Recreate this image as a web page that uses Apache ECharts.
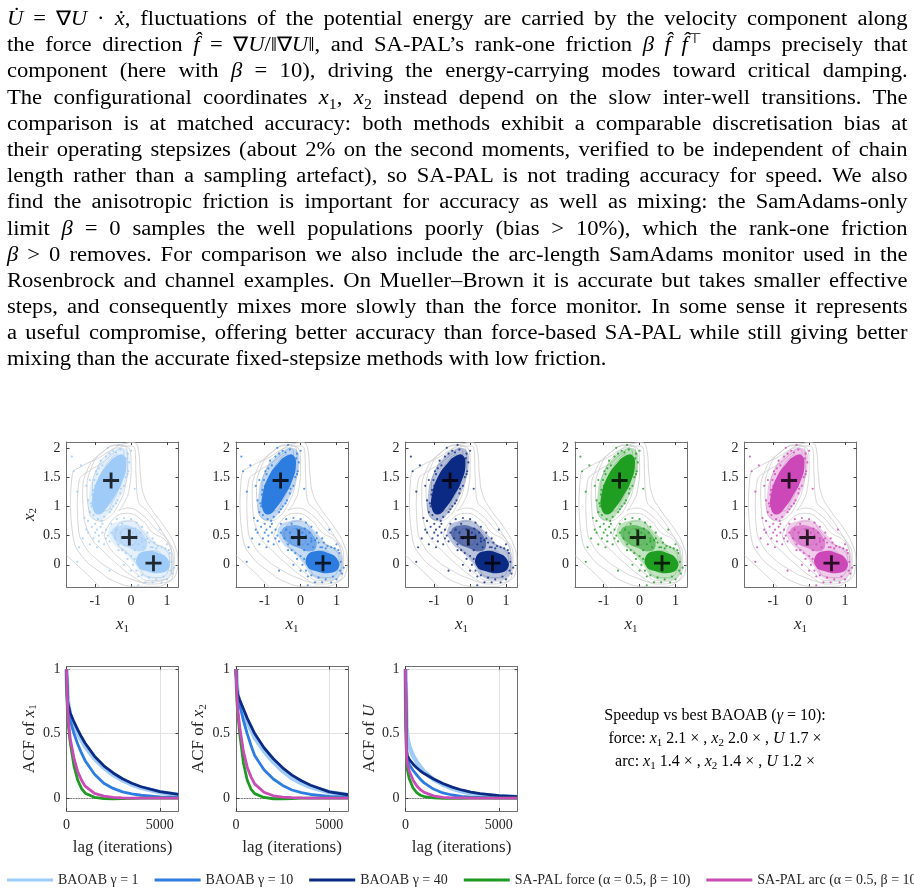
<!DOCTYPE html>
<html>
<head>
<meta charset="utf-8">
<script src="https://cdn.jsdelivr.net/npm/echarts@6/dist/echarts.min.js"></script>
<style>
  body { margin: 0; background: #fff; }
  #chart { position: absolute; left: 0; top: 0; width: 914px; height: 893px; }
  #text {
    position: absolute; left: 7px; top: 5px; width: 797px; z-index: 2;
    transform: scaleX(1.13); transform-origin: left top;
    font-family: "Liberation Serif", serif; font-size: 20px; color: #000;
  }
  #text div { height: 26.2px; line-height: 26.2px; text-align: justify; text-align-last: justify; }
  #text div.last { text-align: left; text-align-last: left; }
  #text sub, #text sup { font-size: 70%; line-height: 0; }
</style>
</head>
<body>
<div id="chart"></div>
<div id="text">
  <div><i>U&#775;</i> = &nabla;<i>U</i> &middot; <i>x&#775;</i>, fluctuations of the potential energy are carried by the velocity component along</div>
  <div>the force direction <i>f&#770;</i> = &nabla;<i>U</i>/&Vert;&nabla;<i>U</i>&Vert;, and SA-PAL&rsquo;s rank-one friction <i>&beta; f&#770; f&#770;</i><sup>&#8868;</sup> damps precisely that</div>
  <div>component (here with <i>&beta;</i> = 10), driving the energy-carrying modes toward critical damping.</div>
  <div>The configurational coordinates <i>x</i><sub>1</sub>, <i>x</i><sub>2</sub> instead depend on the slow inter-well transitions. The</div>
  <div>comparison is at matched accuracy: both methods exhibit a comparable discretisation bias at</div>
  <div>their operating stepsizes (about 2% on the second moments, verified to be independent of chain</div>
  <div>length rather than a sampling artefact), so SA-PAL is not trading accuracy for speed. We also</div>
  <div>find the anisotropic friction is important for accuracy as well as mixing: the SamAdams-only</div>
  <div>limit <i>&beta;</i> = 0 samples the well populations poorly (bias &gt; 10%), which the rank-one friction</div>
  <div><i>&beta;</i> &gt; 0 removes. For comparison we also include the arc-length SamAdams monitor used in the</div>
  <div>Rosenbrock and channel examples. On Mueller&ndash;Brown it is accurate but takes smaller effective</div>
  <div>steps, and consequently mixes more slowly than the force monitor. In some sense it represents</div>
  <div>a useful compromise, offering better accuracy than force-based SA-PAL while still giving better</div>
  <div class="last">mixing than the accurate fixed-stepsize methods with low friction.</div>
</div>
<script>
// ---- data ----
const methodNames = ['BAOAB γ = 1', 'BAOAB γ = 10', 'BAOAB γ = 40', 'SA-PAL force (α = 0.5, β = 10)', 'SA-PAL arc (α = 0.5, β = 10)'];
const methodColors = ['#9fcbf8', '#2d7de0', '#0b2a84', '#1f9a22', '#c94bb5'];

// well minima (crosses)
const minima = [[-0.558, 1.442], [-0.050, 0.467], [0.623, 0.028]];

// hand-traced potential contours (x1, x2)
const cOpen = [[-1.8, 0.16], [-1.55, 0.02], [-1.3, -0.12], [-1.05, -0.27], [-0.85, -0.4]];
const cOuter1 = [[-1.69, 1.03], [-1.64, 1.54], [-1.36, 1.69], [-0.9, 1.83], [-0.53, 1.97], [-0.2, 2.07], [0.07, 2.09], [0.21, 1.94], [0.26, 1.54], [0.35, 1.2], [0.58, 0.94], [0.95, 0.63], [1.21, 0.34], [1.3, 0.06], [1.26, -0.14], [1.05, -0.29], [0.68, -0.37], [0.12, -0.37], [-0.44, -0.29], [-0.9, -0.11], [-1.36, 0.14], [-1.61, 0.46], [-1.69, 1.03]];
const cOuter2 = [[-1.5, 1.03], [-1.45, 1.43], [-1.18, 1.6], [-0.81, 1.74], [-0.48, 1.91], [-0.16, 2.03], [0.03, 2.03], [0.12, 1.89], [0.14, 1.49], [0.19, 1.11], [0.49, 0.89], [0.86, 0.57], [1.09, 0.29], [1.17, 0.03], [1.09, -0.17], [0.86, -0.27], [0.4, -0.3], [-0.06, -0.23], [-0.53, -0.09], [-0.99, 0.11], [-1.31, 0.34], [-1.47, 0.63], [-1.5, 1.03]];
const cMerged = [[-1.3, 0.75], [-1.35, 1.2], [-1.2, 1.65], [-0.85, 1.9], [-0.4, 2.04], [-0.05, 1.98], [0.0, 1.7], [-0.05, 1.3], [-0.2, 1.05], [-0.35, 0.93], [-0.1, 0.97], [0.3, 0.86], [0.7, 0.6], [1.02, 0.42], [1.2, 0.14], [1.17, -0.16], [0.97, -0.3], [0.5, -0.33], [0.05, -0.2], [-0.4, 0.02], [-0.8, 0.25], [-1.1, 0.45], [-1.3, 0.75]];
const cUp1 = [[-0.9, 1.05], [-0.92, 1.3], [-0.78, 1.6], [-0.58, 1.8], [-0.4, 1.88], [-0.3, 1.8], [-0.32, 1.55], [-0.45, 1.3], [-0.62, 1.1], [-0.78, 1.0], [-0.9, 1.05]];
const cUp2 = [[-1.02, 0.95], [-1.08, 1.3], [-0.92, 1.68], [-0.65, 1.9], [-0.38, 2.0], [-0.2, 1.93], [-0.2, 1.65], [-0.32, 1.35], [-0.5, 1.1], [-0.72, 0.92], [-1.02, 0.95]];
const cUp3 = [[-1.15, 0.85], [-1.23, 1.25], [-1.08, 1.7], [-0.75, 1.95], [-0.38, 2.05], [-0.12, 1.98], [-0.1, 1.7], [-0.18, 1.3], [-0.34, 1.05], [-0.6, 0.82], [-0.9, 0.75], [-1.15, 0.85]];
const cRight = [[0.3, 0.06], [0.42, 0.2], [0.65, 0.24], [0.88, 0.15], [0.95, 0.0], [0.82, -0.1], [0.55, -0.1], [0.35, -0.04], [0.3, 0.06]];
const cMid = [[-0.3, 0.5], [-0.18, 0.62], [0.05, 0.62], [0.15, 0.47], [0.08, 0.35], [-0.12, 0.33], [-0.28, 0.4], [-0.3, 0.5]];
const cLow1 = [[-0.45, 0.52], [-0.3, 0.72], [0.05, 0.75], [0.3, 0.58], [0.6, 0.38], [0.92, 0.28], [1.07, 0.08], [1.02, -0.12], [0.78, -0.22], [0.45, -0.2], [0.2, -0.02], [-0.1, 0.2], [-0.38, 0.35], [-0.45, 0.52]];
const cLow2 = [[-0.75, 0.5], [-0.5, 0.78], [-0.1, 0.88], [0.3, 0.76], [0.6, 0.55], [0.95, 0.42], [1.13, 0.2], [1.13, -0.1], [0.93, -0.25], [0.5, -0.27], [0.15, -0.15], [-0.2, 0.05], [-0.55, 0.25], [-0.75, 0.5]];
const contours = [cOpen, cOuter1, cOuter2, cMerged, cUp3, cUp2, cUp1, cLow2, cLow1, cMid, cRight];

// sample clouds: solid cores, fainter halos, and sparse single samples
const coreUpper = [[-1.06, 0.95], [-1.06, 1.2], [-0.9, 1.5], [-0.64, 1.73], [-0.4, 1.86], [-0.2, 1.87], [-0.13, 1.7], [-0.24, 1.43], [-0.43, 1.2], [-0.66, 0.99], [-0.9, 0.86]];
const coreRight = [[0.17, 0.14], [0.4, 0.23], [0.77, 0.2], [1.03, 0.09], [1.05, -0.06], [0.81, -0.14], [0.44, -0.11], [0.19, -0.03]];
const coreMiddle = [[-0.53, 0.57], [-0.3, 0.67], [0.07, 0.64], [0.35, 0.51], [0.44, 0.31], [0.26, 0.23], [-0.06, 0.29], [-0.39, 0.4]];
const haloUpper = [[-1.14, 0.84], [-1.17, 1.2], [-1.02, 1.56], [-0.73, 1.83], [-0.4, 1.98], [-0.11, 1.96], [-0.04, 1.72], [-0.14, 1.42], [-0.34, 1.12], [-0.6, 0.89], [-0.86, 0.76]];
const haloLower = [[-0.62, 0.62], [-0.3, 0.75], [0.1, 0.73], [0.42, 0.56], [0.72, 0.36], [1.06, 0.23], [1.16, 0.0], [1.06, -0.19], [0.75, -0.25], [0.35, -0.21], [0.08, 0.02], [-0.22, 0.22], [-0.52, 0.38]];
const cores = [haloUpper, haloLower, coreUpper, coreRight, coreMiddle];
const coreOpacity = [0.3, 0.28, 1, 1, 0.55];
const samples = [
  [-1.05, 0.85], [-1.1, 1.0], [-1.08, 1.2], [-1.0, 1.35], [-0.95, 1.55], [-0.8, 1.7], [-0.7, 1.85], [-0.5, 1.95], [-0.3, 1.97], [-0.1, 1.9],
  [-0.05, 1.75], [-0.08, 1.6], [-0.15, 1.5], [-0.2, 1.35], [-0.3, 1.22], [-0.38, 1.1], [-0.5, 1.0], [-0.6, 0.9], [-0.75, 0.82], [-0.92, 0.78],
  [-1.15, 0.9], [-1.2, 1.1], [-1.15, 1.45], [-1.4, 1.7], [-1.6, 1.6], [-0.25, 1.6], [-0.9, 1.65], [-1.02, 1.45], [-0.45, 1.78], [-0.2, 1.8],
  [-1.5, 1.25], [-0.35, 2.05], [-1.0, 0.7], [-0.95, 0.6], [-0.85, 0.65], [-0.8, 0.55], [-0.7, 0.6], [-0.65, 0.5], [-1.1, 0.65], [-1.2, 0.55],
  [-1.35, 0.45], [-1.05, 0.45], [-0.9, 0.4], [-0.75, 0.35], [-0.6, 0.4], [-0.55, 0.7], [-0.4, 0.78], [-0.2, 0.8], [0.0, 0.78], [0.15, 0.72],
  [0.3, 0.65], [0.45, 0.55], [-1.3, 0.8], [-1.45, 0.3], [-0.45, 0.45], [-0.35, 0.35], [-0.25, 0.25], [-0.15, 0.2], [0.0, 0.15], [0.1, 0.25],
  [0.2, 0.35], [0.3, 0.4], [0.4, 0.42], [0.5, 0.38], [-0.3, 0.55], [-0.1, 0.6], [0.05, 0.55], [0.15, 0.5], [-0.2, 0.45], [0.25, 0.55],
  [0.55, 0.3], [-0.05, 0.35], [0.1, 0.1], [0.05, 0.0], [0.15, -0.1], [0.3, -0.18], [0.5, -0.22], [0.7, -0.25], [0.9, -0.2], [1.1, -0.1],
  [1.12, 0.05], [1.08, 0.2], [0.95, 0.28], [0.75, 0.32], [0.6, 0.3], [0.35, 0.3], [0.25, -0.05], [1.2, -0.05], [0.85, -0.3], [0.4, -0.3],
  [1.0, 0.35], [0.65, 0.38], [-1.65, 1.85], [0.1, 1.3], [-1.5, 0.05], [0.8, 0.6], [-0.6, -0.1], [0.2, -0.35], [-0.7, 1.3], [-0.55, 1.55],
  [-1.12, 1.05], [-1.06, 1.28], [-0.98, 1.6], [-0.85, 1.78], [-0.6, 1.9], [-0.42, 1.92], [-0.12, 1.82], [-0.1, 1.55], [-0.28, 1.3], [-0.42, 1.05],
  [-0.55, 0.95], [-0.82, 0.75], [-1.2, 0.75], [-1.25, 1.35], [-0.65, 2.0], [0.0, 1.95], [-1.0, 0.55], [-0.9, 0.5], [-0.7, 0.45], [-0.55, 0.55],
  [-1.15, 0.35], [-0.8, 0.7], [-0.95, 0.3], [-1.25, 0.6], [-0.4, 0.6], [-0.35, 0.25], [-0.1, 0.1], [0.2, 0.1], [0.35, 0.15], [0.45, 0.45],
  [0.6, 0.45], [0.7, 0.28], [0.85, 0.3], [1.05, 0.25], [1.15, -0.15], [1.0, -0.25], [0.6, -0.3], [0.2, -0.2], [0.0, -0.1], [-0.2, 0.0],
  [0.12, 0.62], [-0.25, 0.7], [0.5, 0.1], [0.3, 0.45]
];
const scatterColors = ['#9fcbf8', '#2d7de0', '#0b2a84', '#1f9e22', '#cc47b8'];
const scatterXTicks = [-1, 0, 1];
const scatterYTicks = [0, 0.5, 1, 1.5, 2];

// autocorrelation functions
const lags = [0, 50, 100, 200, 400, 600, 800, 1000, 1500, 2000, 2500, 3000, 3500, 4000, 5000, 6000];
const x1_g1 = [1, 0.8, 0.72, 0.64, 0.57, 0.505, 0.45, 0.40, 0.305, 0.235, 0.18, 0.138, 0.105, 0.08, 0.045, 0.025];
const x1_g10 = [1, 0.7, 0.64, 0.6, 0.5, 0.42, 0.35, 0.29, 0.185, 0.115, 0.075, 0.048, 0.032, 0.022, 0.01, 0.005];
const x1_g40 = [1, 0.76, 0.72, 0.66, 0.59, 0.53, 0.475, 0.425, 0.325, 0.25, 0.195, 0.15, 0.115, 0.088, 0.05, 0.028];
const x1_force = [1, 0.66, 0.56, 0.43, 0.25, 0.14, 0.075, 0.038, 0.006, -0.004, -0.005, -0.004, -0.002, 0, 0, 0];
const x1_arc = [1, 0.75, 0.6, 0.46, 0.31, 0.205, 0.14, 0.092, 0.036, 0.015, 0.006, 0.002, 0, 0, 0, 0];
const x2_g1 = [1, 0.86, 0.79, 0.74, 0.66, 0.59, 0.53, 0.47, 0.365, 0.28, 0.21, 0.155, 0.115, 0.085, 0.045, 0.025];
const x2_g10 = [1, 0.82, 0.78, 0.72, 0.6, 0.5, 0.41, 0.33, 0.22, 0.148, 0.098, 0.063, 0.042, 0.028, 0.014, 0.008];
const x2_g40 = [1, 0.84, 0.8, 0.76, 0.69, 0.62, 0.56, 0.50, 0.39, 0.305, 0.235, 0.178, 0.135, 0.1, 0.048, 0.026];
const x2_force = [1, 0.75, 0.65, 0.5, 0.27, 0.14, 0.07, 0.035, 0.005, -0.005, -0.005, -0.003, 0, 0, 0, 0];
const x2_arc = [1, 0.8, 0.68, 0.55, 0.36, 0.24, 0.165, 0.11, 0.045, 0.018, 0.008, 0.003, 0.001, 0, 0, 0];
const U_g1 = [1, 0.55, 0.47, 0.4, 0.33, 0.28, 0.24, 0.205, 0.145, 0.105, 0.075, 0.052, 0.037, 0.026, 0.014, 0.008];
const U_g10 = [1, 0.34, 0.3, 0.26, 0.215, 0.18, 0.145, 0.118, 0.07, 0.04, 0.024, 0.014, 0.008, 0.005, 0.002, 0.001];
const U_g40 = [1, 0.38, 0.33, 0.3, 0.265, 0.235, 0.21, 0.19, 0.148, 0.113, 0.085, 0.063, 0.047, 0.035, 0.019, 0.011];
const U_force = [1, 0.3, 0.22, 0.15, 0.08, 0.042, 0.022, 0.012, 0.002, -0.002, -0.002, -0.001, 0, 0, 0, 0];
const U_arc = [1, 0.34, 0.27, 0.21, 0.14, 0.095, 0.065, 0.045, 0.017, 0.006, 0.002, 0.001, 0, 0, 0, 0];
const acfSets = [
  [x1_g1, x1_g10, x1_g40, x1_force, x1_arc],
  [x2_g1, x2_g10, x2_g40, x2_force, x2_arc],
  [U_g1, U_g10, U_g40, U_force, U_arc]
];
const acfYNames = ['ACF of {i|x}{s|1}', 'ACF of {i|x}{s|2}', 'ACF of {i|U}'];
const acfXTicks = [0, 5000];
const acfYTicks = [0, 0.5, 1];

// speedup vs best BAOAB
const speedForce = [2.1, 2.0, 1.7];
const speedArc = [1.4, 1.4, 1.2];

// ---- layout / style ----
const FONT = 'Liberation Serif';
const panelLeft = [66.5, 236, 405.5, 575, 744.5];
const panelW = 112;
const rich = {
  i: { fontStyle: 'italic', fontFamily: FONT, fontSize: 17, lineHeight: 20 },
  s: { fontFamily: FONT, fontSize: 11, lineHeight: 11, verticalAlign: 'bottom' }
};
const nameStyle = { fontFamily: FONT, fontSize: 17, color: '#262626', rich: rich };

const grids = [], xAxes = [], yAxes = [], series = [];

function addAxes(g, xr, yr, xt, yt, xName, yName, split) {
  const common = {
    type: 'value', gridIndex: g,
    axisLine: { show: true, onZero: false, lineStyle: { color: '#707070', width: 1 } },
    axisTick: { show: true, inside: true, length: 3, lineStyle: { color: '#404040' } }
  };
  const label = { fontFamily: FONT, fontSize: 14, color: '#262626', formatter: v => String(v) };
  xAxes.push(Object.assign({}, common, {
    position: 'bottom', min: xr[0], max: xr[1],
    axisTick: Object.assign({}, common.axisTick, { customValues: xt }),
    axisLabel: Object.assign({ customValues: xt, margin: 7 }, label),
    splitLine: { show: split, lineStyle: { color: '#e2e2e2', width: 1 } },
    name: xName, nameLocation: 'middle', nameGap: 28, nameTextStyle: nameStyle
  }));
  xAxes.push(Object.assign({}, common, {
    position: 'top', min: xr[0], max: xr[1],
    axisTick: Object.assign({}, common.axisTick, { customValues: xt }),
    axisLabel: { show: false }, splitLine: { show: false }
  }));
  yAxes.push(Object.assign({}, common, {
    position: 'left', min: yr[0], max: yr[1],
    axisTick: Object.assign({}, common.axisTick, { customValues: yt }),
    axisLabel: Object.assign({ customValues: yt, margin: 6 }, label),
    splitLine: { show: split, lineStyle: { color: '#e2e2e2', width: 1 } },
    name: yName, nameLocation: 'middle', nameGap: 26, nameTextStyle: nameStyle
  }));
  yAxes.push(Object.assign({}, common, {
    position: 'right', min: yr[0], max: yr[1],
    axisTick: Object.assign({}, common.axisTick, { customValues: yt }),
    axisLabel: { show: false }, splitLine: { show: false }
  }));
}

// scatter panels
scatterColors.forEach((col, p) => {
  grids.push({ left: panelLeft[p], top: 442, width: panelW, height: 145 });
  addAxes(p, [-1.8, 1.32], [-0.38, 2.1], scatterXTicks, scatterYTicks,
    '{i|x}{s|1}', p === 0 ? '{i|x}{s|2}' : '', false);
  contours.forEach(c => series.push({
    type: 'line', xAxisIndex: 2 * p, yAxisIndex: 2 * p, data: c, smooth: 0.5,
    showSymbol: false, silent: true, lineStyle: { color: '#cbcbcb', width: 0.8 }, z: 1
  }));
  series.push({
    type: 'custom', xAxisIndex: 2 * p, yAxisIndex: 2 * p, data: cores.map((c, k) => [k]), silent: true, z: 2,
    renderItem: (params, api) => {
      const k = api.value(0);
      return {
        type: 'polygon',
        shape: { points: cores[k].map(pt => api.coord(pt)), smooth: 0.5 },
        style: { fill: col, opacity: coreOpacity[k] }
      };
    }
  });
  series.push({
    type: 'scatter', xAxisIndex: 2 * p, yAxisIndex: 2 * p, data: samples, symbolSize: 2.2,
    itemStyle: { color: col }, silent: true, z: 3
  });
  series.push({
    type: 'scatter', xAxisIndex: 2 * p, yAxisIndex: 2 * p, data: minima,
    symbol: 'path://M7,0h3v7h7v3h-7v7h-3v-7h-7v-3h7z', symbolSize: 16,
    itemStyle: { color: '#000' }, silent: true, z: 4
  });
});

// ACF panels
acfSets.forEach((set, a) => {
  const g = 5 + a;
  grids.push({ left: panelLeft[a], top: 666.5, width: panelW, height: 144.5 });
  addAxes(g, [0, 6000], [-0.1, 1.02], acfXTicks, acfYTicks, 'lag (iterations)', acfYNames[a], true);
  set.forEach((vals, m) => {
    const s = {
      type: 'line', name: methodNames[m], xAxisIndex: 2 * g, yAxisIndex: 2 * g,
      data: lags.map((l, i) => [l, vals[i]]), showSymbol: false, smooth: false,
      lineStyle: { color: methodColors[m], width: m === 0 ? 4.5 : 2.8 },
      itemStyle: { color: methodColors[m] }, z: 2 + m
    };
    if (m === 0) {
      s.markLine = {
        silent: true, symbol: 'none', label: { show: false },
        lineStyle: { type: 'dotted', color: '#333', width: 0.8 },
        data: [{ yAxis: 0 }]
      };
    }
    series.push(s);
  });
});

const textRich = {
  i: { fontStyle: 'italic', fontFamily: FONT, fontSize: 16, lineHeight: 20 },
  s: { fontFamily: FONT, fontSize: 11, lineHeight: 11, verticalAlign: 'bottom' }
};
function speedLine(label, v) {
  return label + ' {i|x}{s|1} ' + v[0].toFixed(1) + ' × , {i|x}{s|2} ' + v[1].toFixed(1) +
    ' × , {i|U} ' + v[2].toFixed(1) + ' ×';
}
const infoLines = ['Speedup vs best BAOAB ({i|γ} = 10):', speedLine('force:', speedForce), speedLine('arc:', speedArc)];
const infoY = [716, 739, 762];

const chart = echarts.init(document.getElementById('chart'));
chart.setOption({
  backgroundColor: '#fff',
  animation: false,
  grid: grids,
  xAxis: xAxes,
  yAxis: yAxes,
  legend: {
    data: methodNames, left: 2, top: 868, width: 1400, icon: 'rect',
    itemWidth: 46, itemHeight: 3, itemGap: 16,
    textStyle: { fontFamily: FONT, fontSize: 14, color: '#262626' }
  },
  graphic: infoLines.map((t, k) => ({
    type: 'text', x: 715, y: infoY[k],
    style: {
      text: t, fill: '#000', fontFamily: FONT, fontSize: 16,
      align: 'center', verticalAlign: 'middle', rich: textRich
    }
  })),
  series: series
});
</script>
</body>
</html>
